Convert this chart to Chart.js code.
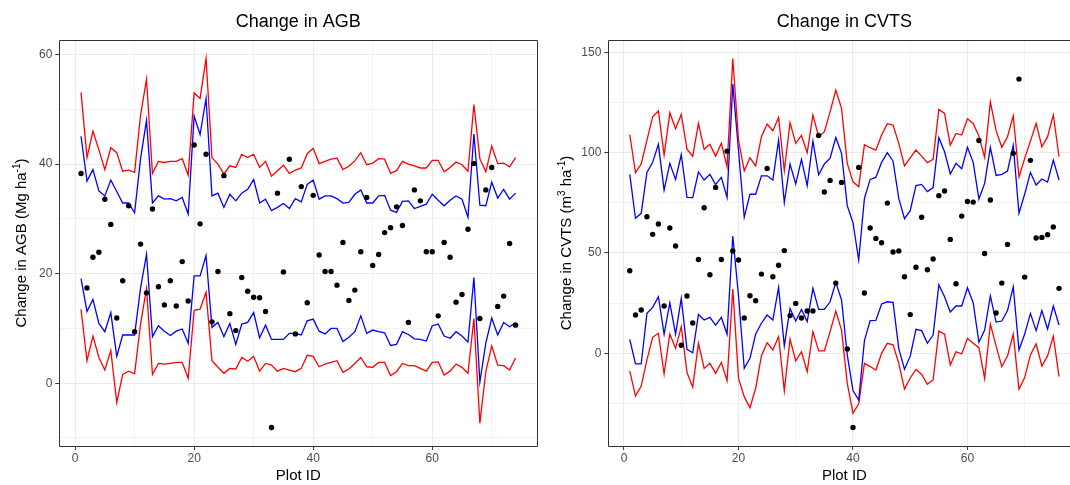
<!DOCTYPE html>
<html>
<head>
<meta charset="utf-8">
<script src="https://cdn.jsdelivr.net/npm/chart.js@4.4.1/dist/chart.umd.min.js"></script>
<style>
  html, body { margin: 0; padding: 0; background: #fff; overflow: hidden; }
  #wrap { position: relative; width: 1070px; height: 485px; overflow: hidden; }
  canvas { position: absolute; top: 0; }
  #agbChart { left: 0; }
  #cvtsChart { left: 545px; }
</style>
</head>
<body>
<div id="wrap">
  <canvas id="agbChart" width="545" height="485"></canvas>
  <canvas id="cvtsChart" width="540" height="485"></canvas>
</div>
<script>
const FONT = '"Liberation Sans", Arial, Helvetica, sans-serif';

// ====== AGB panel data (Plot 1..74) ======
const agbObs = [38.3, 17.4, 23.0, 23.9, 33.6, 29.0, 11.9, 18.7, 32.4, 9.4,
  25.4, 16.5, 31.8, 17.6, 14.3, 18.7, 14.1, 22.2, 15.0, 43.5,
  29.1, 41.8, 11.2, 20.4, 37.9, 12.7, 9.6, 19.3, 16.8, 15.7,
  15.6, 13.1, -8.1, 34.7, 20.3, 40.9, 9.0, 35.9, 14.7, 34.3,
  23.4, 20.4, 20.4, 17.9, 25.7, 15.1, 17.0, 24.0, 33.9, 21.5,
  23.5, 27.5, 28.4, 32.2, 28.8, 11.1, 35.3, 33.3, 24.0, 24.0,
  12.3, 25.7, 23.0, 14.8, 16.2, 28.1, 40.1, 11.8, 35.3, 39.4,
  14.0, 15.9, 25.5, 10.6];
const agbRedHi = [53.1, 41.2, 46.0, 42.6, 39.0, 43.0, 42.1, 38.7, 38.9, 38.5,
  48.9, 55.5, 38.3, 40.5, 40.3, 40.5, 40.5, 41.0, 38.0, 53.0,
  52.0, 59.3, 41.2, 40.0, 38.2, 39.7, 39.4, 41.8, 41.2, 41.8,
  39.4, 40.5, 37.8, 38.8, 39.8, 38.3, 38.9, 39.3, 41.9, 42.9,
  40.1, 40.5, 40.9, 41.1, 39.0, 39.6, 40.6, 42.1, 39.9, 40.2,
  41.0, 40.9, 38.3, 38.8, 40.5, 40.0, 39.7, 39.3, 39.3, 40.7,
  40.7, 38.6, 39.4, 40.4, 39.9, 38.7, 50.9, 41.0, 38.6, 43.3,
  40.1, 40.2, 39.5, 41.2];
const agbBlueHi = [45.1, 36.9, 39.0, 35.1, 34.2, 37.1, 35.0, 32.9, 32.9, 31.1,
  41.0, 48.0, 32.9, 34.2, 33.6, 33.7, 33.3, 33.9, 30.9, 48.8,
  45.4, 52.0, 34.2, 34.7, 32.1, 34.5, 33.3, 34.7, 35.4, 37.2,
  32.9, 33.6, 31.5, 32.1, 32.8, 31.9, 33.7, 33.1, 36.3, 37.1,
  33.6, 34.2, 34.2, 33.7, 32.9, 33.0, 34.5, 35.3, 32.9, 32.9,
  34.2, 34.3, 31.6, 31.2, 33.2, 33.3, 31.9, 32.3, 32.7, 34.5,
  33.4, 32.4, 33.4, 34.2, 33.6, 30.3, 45.5, 32.5, 32.4, 36.7,
  33.8, 35.4, 33.6, 34.7];
const agbBlueLo = [19.1, 13.1, 15.3, 10.9, 9.4, 12.9, 4.9, 8.8, 8.8, 8.8,
  17.4, 23.5, 8.5, 10.5, 9.5, 8.7, 9.5, 9.9, 7.3, 19.6,
  19.6, 23.3, 10.2, 11.1, 8.5, 10.9, 7.1, 10.8, 11.1, 12.9,
  8.3, 10.6, 8.0, 8.0, 8.0, 9.1, 9.1, 8.8, 11.4, 11.7,
  9.5, 9.0, 10.0, 10.0, 7.6, 8.4, 9.4, 12.3, 9.1, 9.7,
  9.4, 9.2, 6.9, 7.1, 9.4, 8.9, 8.1, 8.0, 7.7, 10.5,
  10.8, 8.6, 8.2, 9.4, 8.6, 7.5, 19.3, 0.2, 7.3, 11.9,
  8.8, 11.1, 10.3, 11.1];
const agbRedLo = [13.5, 4.1, 8.6, 4.7, 2.4, 6.0, -3.5, 1.6, 2.2, 1.7,
  10.8, 17.3, 1.6, 3.6, 3.5, 3.6, 3.8, 3.8, 0.9, 13.3,
  13.5, 16.6, 4.1, 2.9, 1.8, 2.7, 2.6, 4.7, 4.0, 4.9,
  2.2, 3.6, 3.3, 2.2, 2.7, 2.4, 2.1, 2.7, 5.1, 4.9,
  3.0, 3.5, 3.8, 4.1, 2.0, 2.6, 3.6, 4.7, 3.0, 2.9,
  3.8, 3.8, 1.4, 2.1, 3.6, 3.2, 3.2, 2.7, 2.2, 3.8,
  3.9, 1.5, 2.2, 3.5, 2.9, 1.8, 11.8, -7.3, 2.1, 6.8,
  3.3, 3.2, 2.4, 4.6];

// ====== CVTS panel data (Plot 1..76) ======
const cvtsObs = [41.2, 19.1, 21.6, 68.1, 59.3, 64.5, 23.6, 62.5, 53.5, 4.0,
  28.6, 15.1, 46.8, 72.6, 39.2, 82.7, 46.8, 100.8, 51.0, 46.5,
  17.6, 28.7, 26.2, 39.5, 92.2, 38.2, 43.9, 51.2, 18.8, 24.9,
  17.6, 21.1, 21.1, 108.6, 80.4, 86.2, 35.0, 85.2, 2.2, -37.0,
  92.7, 30.1, 62.5, 57.3, 55.1, 74.9, 50.5, 51.0, 38.2, 19.3,
  42.9, 67.8, 41.7, 47.0, 78.6, 80.9, 56.8, 34.7, 68.4, 75.7,
  75.4, 106.1, 49.8, 76.4, 20.1, 35.0, 54.3, 99.7, 136.7, 38.0,
  96.2, 57.5, 57.8, 59.1, 63.0, 32.4];
const cvtsRedHi = [109.1, 90.0, 94.4, 106.3, 117.9, 120.8, 98.8, 119.9, 112.0, 119.1,
  101.8, 98.3, 114.6, 101.7, 104.2, 98.3, 104.7, 93.0, 147.0, 106.3,
  91.0, 97.5, 93.5, 108.0, 114.3, 111.0, 117.6, 91.0, 115.0, 104.7,
  108.6, 100.0, 118.8, 108.0, 110.5, 120.4, 131.2, 122.1, 94.7, 85.5,
  83.1, 104.0, 102.5, 101.3, 108.8, 114.5, 113.8, 104.7, 93.4, 97.4,
  101.3, 98.3, 95.0, 96.7, 121.6, 119.6, 103.8, 109.6, 108.8, 116.9,
  114.6, 108.3, 97.7, 125.4, 111.0, 102.7, 108.0, 118.4, 87.9, 97.2,
  105.8, 114.6, 103.0, 108.0, 118.8, 98.0];
const cvtsBlueHi = [89.2, 67.3, 69.8, 90.2, 95.2, 104.2, 81.4, 94.7, 86.7, 99.0,
  77.7, 77.6, 90.4, 86.4, 89.2, 84.1, 87.7, 77.7, 134.2, 101.0,
  67.8, 79.4, 79.3, 88.5, 88.5, 86.4, 106.3, 75.2, 94.4, 84.4,
  96.7, 83.6, 105.8, 89.0, 94.4, 97.3, 107.6, 99.7, 73.6, 65.1,
  46.5, 77.2, 86.7, 87.7, 95.2, 100.0, 95.8, 77.2, 67.1, 71.1,
  83.6, 84.2, 80.6, 82.6, 107.5, 100.5, 89.4, 94.7, 92.0, 102.7,
  95.2, 76.9, 84.7, 102.7, 88.7, 89.2, 90.9, 103.7, 69.8, 79.4,
  90.2, 83.9, 86.9, 85.4, 96.3, 86.4];
const cvtsBlueLo = [7.0, -5.3, -5.3, 19.9, 22.9, 28.2, 9.6, 25.2, 9.6, 27.4,
  2.0, 0.3, 19.4, 16.6, 17.9, 14.1, 17.9, 9.6, 58.5, 28.6,
  -7.5, -2.5, 9.6, 15.0, 19.1, 16.6, 32.9, 3.7, 22.3, 16.1,
  21.9, 15.8, 32.4, 21.9, 21.9, 25.7, 35.4, 26.6, -0.8, -18.6,
  -23.3, 6.3, 16.3, 16.4, 24.6, 25.7, 25.4, 2.5, -8.0, -1.4,
  12.0, 11.3, 5.0, 9.1, 34.1, 28.2, 20.6, 23.6, 23.6, 32.7,
  25.2, 5.5, 11.6, 28.6, 15.6, 16.1, 21.3, 33.2, 1.7, 9.6,
  19.9, 11.3, 21.3, 12.1, 23.6, 14.1];
const cvtsRedLo = [-8.8, -21.3, -16.3, -3.3, 8.0, 10.0, -10.3, 9.6, 2.5, 13.3,
  -9.6, -16.9, 5.0, -7.5, -5.0, -10.0, -4.5, -13.6, 32.1, -12.5,
  -21.6, -27.1, -17.4, -1.3, 5.3, 1.7, 8.3, -18.6, 7.0, -3.8,
  0.8, -9.1, 10.8, 1.2, 1.2, 10.8, 21.1, 11.6, -15.0, -29.9,
  -25.2, -5.0, -6.6, -8.3, 0.0, 5.0, 4.2, -5.0, -17.8, -12.3,
  -8.0, -10.5, -15.4, -13.3, 11.1, 9.6, -5.8, 0.8, -0.3, 7.5,
  5.0, 2.8, -12.5, 14.6, 3.7, -6.6, -1.3, 9.6, -17.9, -12.1,
  -0.8, 4.7, -6.3, -1.3, 8.6, -11.6];

// ====== ticks ======
const xGridTicks = [0, 10, 20, 30, 40, 50, 60, 70];
const xLabelTicks = [0, 20, 40, 60];
const agbGridTicks = [-10, 0, 10, 20, 30, 40, 50, 60];
const agbLabelTicks = [0, 20, 40, 60];
const cvtsGridTicks = [-25, 0, 25, 50, 75, 100, 125, 150];
const cvtsLabelTicks = [0, 50, 100, 150];

// ====== y label with superscripts ======
function drawRotatedLabel(ctx, parts, x, yMid) {
  const mainFont = '15px ' + FONT;
  const supFont = '10px ' + FONT;
  let total = 0;
  parts.forEach(([txt, sup]) => {
    ctx.font = sup ? supFont : mainFont;
    total += ctx.measureText(txt).width;
  });
  ctx.save();
  ctx.translate(x, yMid);
  ctx.rotate(-Math.PI / 2);
  ctx.fillStyle = '#000';
  ctx.textAlign = 'left';
  ctx.textBaseline = 'alphabetic';
  let pos = -total / 2;
  parts.forEach(([txt, sup]) => {
    ctx.font = sup ? supFont : mainFont;
    ctx.fillText(txt, pos, sup ? -6 : 0);
    pos += ctx.measureText(txt).width;
  });
  ctx.restore();
}

// ====== panel border + title + y label ======
const panelDeco = {
  id: 'panelDeco',
  afterDraw(chart, args, opts) {
    const { ctx, chartArea: a } = chart;
    const l = Math.round(a.left) + 0.5;
    const t = Math.round(a.top) + 0.5;
    const r = Math.round(a.right) + 0.5;
    const b = Math.round(a.bottom) + 0.5;
    ctx.save();
    ctx.strokeStyle = '#333333';
    ctx.lineWidth = 1;
    ctx.beginPath();
    ctx.moveTo(r, t);
    ctx.lineTo(l, t);
    ctx.lineTo(l, b);
    ctx.lineTo(r, b);
    if (!opts.openRight) ctx.closePath();
    ctx.stroke();
    ctx.fillStyle = '#000';
    ctx.font = '18px ' + FONT;
    ctx.textAlign = 'center';
    ctx.textBaseline = 'alphabetic';
    ctx.fillText(opts.title, (a.left + a.right) / 2, 27);
    ctx.restore();
    drawRotatedLabel(ctx, opts.yLabel, 26, (a.top + a.bottom) / 2);
  }
};

function toPoints(values) {
  return values.map((v, i) => ({ x: i + 1, y: v }));
}

function buildChart(canvasId, cfg) {
  const tickFont = { family: FONT, size: 12 };
  const gridOpts = (labels) => ({
    color: '#ebebeb',
    lineWidth: (c) => (c.tick && labels.includes(c.tick.value) ? 1.1 : 0.6),
    tickColor: (c) => (c.tick && labels.includes(c.tick.value) ? '#333333' : 'rgba(0,0,0,0)'),
    tickWidth: 1,
    tickLength: 4,
    drawTicks: true,
  });

  return new Chart(document.getElementById(canvasId), {
    type: 'line',
    data: {
      datasets: [
        { data: toPoints(cfg.obs), showLine: false, pointRadius: 2.7, pointBorderWidth: 0,
          pointBackgroundColor: '#000', borderColor: '#000' },
        { data: toPoints(cfg.redHi), borderColor: '#ff0000', borderWidth: 1.3, pointRadius: 0, fill: false },
        { data: toPoints(cfg.blueHi), borderColor: '#0000ff', borderWidth: 1.3, pointRadius: 0, fill: false },
        { data: toPoints(cfg.blueLo), borderColor: '#0000ff', borderWidth: 1.3, pointRadius: 0, fill: false },
        { data: toPoints(cfg.redLo), borderColor: '#ff0000', borderWidth: 1.3, pointRadius: 0, fill: false },
      ],
    },
    options: {
      responsive: false,
      animation: false,
      devicePixelRatio: 1,
      layout: { padding: { top: 40, right: cfg.padRight, left: 0, bottom: 0 } },
      plugins: {
        legend: { display: false },
        tooltip: { enabled: false },
        panelDeco: { title: cfg.title, yLabel: cfg.yLabel, openRight: cfg.openRight },
      },
      scales: {
        x: {
          type: 'linear',
          min: cfg.xMin,
          max: cfg.xMax,
          afterFit: (s) => { s.height = 39; },
          afterBuildTicks: (s) => { s.ticks = xGridTicks.map((v) => ({ value: v })); },
          grid: gridOpts(xLabelTicks),
          border: { display: false },
          ticks: {
            autoSkip: false, maxRotation: 0, padding: 1,
            color: '#4d4d4d', font: tickFont,
            callback: (v) => (xLabelTicks.includes(v) ? String(v) : ''),
          },
          title: { display: true, text: 'Plot ID', color: '#000',
            font: { family: FONT, size: 15 }, padding: { top: 0, bottom: 0 } },
        },
        y: {
          type: 'linear',
          min: cfg.yMin,
          max: cfg.yMax,
          afterFit: (s) => { s.width = cfg.yWidth; },
          afterBuildTicks: (s) => { s.ticks = cfg.yGrid.map((v) => ({ value: v })); },
          grid: gridOpts(cfg.yLabels),
          border: { display: false },
          ticks: {
            autoSkip: false, padding: 3,
            color: '#4d4d4d', font: tickFont,
            callback: (v) => (cfg.yLabels.includes(v) ? String(v) : ''),
          },
        },
      },
    },
    plugins: [panelDeco],
  });
}

buildChart('agbChart', {
  title: 'Change in AGB',
  yLabel: [['Change in AGB (Mg ha', false], ['-1', true], [')', false]],
  obs: agbObs, redHi: agbRedHi, blueHi: agbBlueHi, blueLo: agbBlueLo, redLo: agbRedLo,
  xMin: -2.65, xMax: 77.65, yMin: -11.47, yMax: 62.67,
  yGrid: agbGridTicks, yLabels: agbLabelTicks,
  yWidth: 59.3, padRight: 7.7, openRight: false,
});

// right panel runs past the page edge in the reference (its right side is cut off)
buildChart('cvtsChart', {
  title: 'Change in CVTS',
  yLabel: [['Change in CVTS (m', false], ['3', true], [' ha', false], ['-1', true], [')', false]],
  obs: cvtsObs, redHi: cvtsRedHi, blueHi: cvtsBlueHi, blueLo: cvtsBlueLo, redLo: cvtsRedLo,
  xMin: -2.75, xMax: 79.75, yMin: -46.2, yMax: 156.2,
  yGrid: cvtsGridTicks, yLabels: cvtsLabelTicks,
  yWidth: 63.3, padRight: 4.5, openRight: true,
});
</script>
</body>
</html>
